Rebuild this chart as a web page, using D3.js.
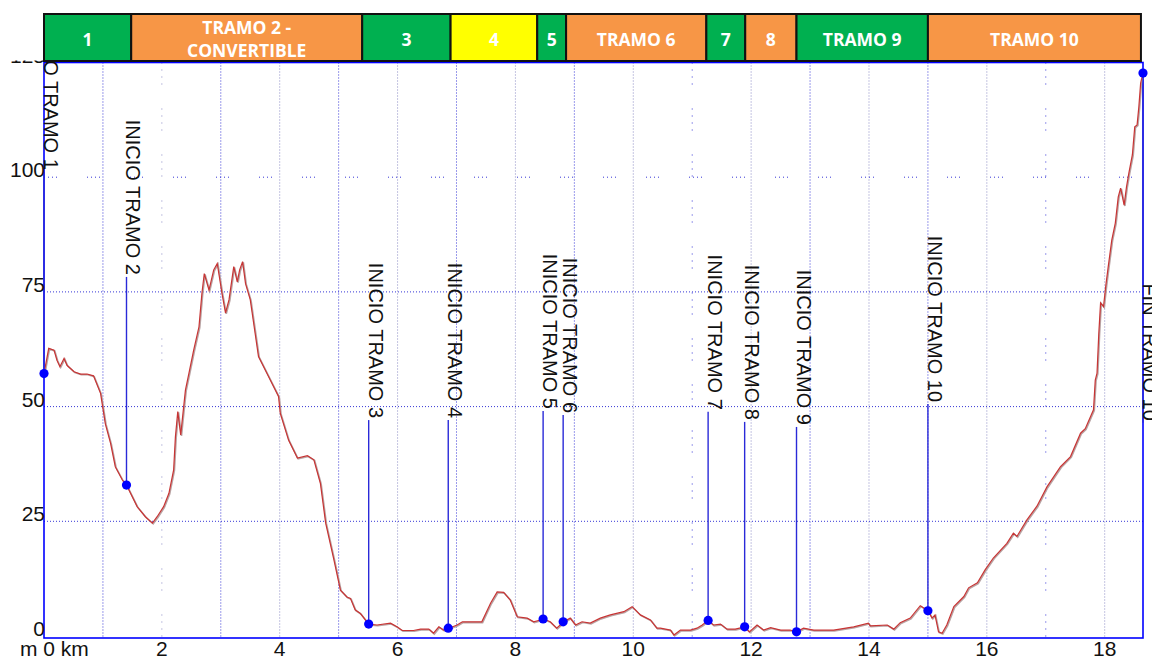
<!DOCTYPE html>
<html><head><meta charset="utf-8">
<script src="https://cdn.jsdelivr.net/npm/d3@7"></script>
<style>html,body{margin:0;padding:0;background:#fff;overflow:hidden} svg{display:block}</style>
</head><body>
<svg id="chart" width="1152" height="659"></svg>
<script>
// ---------- DATA ----------
const profileKm = [0,0.08,0.17,0.22,0.27,0.34,0.39,0.51,0.62,0.73,0.84,0.96,1.04,1.13,1.21,1.33,1.40,1.58,1.72,1.84,1.92,2.03,2.12,2.20,2.23,2.27,2.32,2.34,2.40,2.46,2.54,2.63,2.68,2.72,2.80,2.88,2.94,3.02,3.08,3.14,3.22,3.28,3.32,3.37,3.42,3.50,3.64,3.84,3.98,4.01,4.15,4.30,4.47,4.58,4.69,4.78,4.92,5.03,5.14,5.20,5.28,5.37,5.51,5.65,5.88,5.99,6.08,6.27,6.39,6.53,6.61,6.70,6.78,6.87,7.01,7.10,7.24,7.43,7.58,7.69,7.80,7.91,8.03,8.20,8.31,8.48,8.59,8.70,8.82,8.93,9.02,9.13,9.27,9.44,9.61,9.84,9.98,10.12,10.29,10.40,10.46,10.63,10.69,10.80,10.97,11.08,11.17,11.27,11.36,11.48,11.59,11.73,11.89,11.97,12.10,12.21,12.33,12.50,12.66,12.77,12.89,13.06,13.40,13.74,13.99,14.02,14.31,14.42,14.53,14.70,14.87,14.93,15.00,15.07,15.12,15.18,15.24,15.32,15.44,15.61,15.69,15.84,15.97,16.11,16.34,16.45,16.51,16.68,16.85,17.02,17.25,17.42,17.59,17.67,17.81,17.84,17.87,17.90,17.93,17.98,18.02,18.06,18.12,18.18,18.23,18.27,18.33,18.37,18.41,18.47,18.51,18.55,18.58,18.61,18.65];
const profileElev = [57.2,62.7,62.3,60.1,58.7,60.5,59.0,57.6,57.1,57.1,56.7,52.9,46.3,42.0,36.9,34.0,32.9,28.2,26.0,24.6,26.0,28.2,31.1,36.2,43.4,48.9,43.8,46.3,53.6,57.3,62.3,67.4,74.7,79.0,75.4,79.8,81.2,74.7,70.4,73.3,80.5,77.2,79.8,81.6,76.8,73.3,60.9,55.8,52.2,48.5,42.7,38.8,39.3,38.4,33.3,24.6,16.6,10.0,8.5,8.2,5.7,4.9,2.6,2.4,2.8,2.0,1.2,1.2,1.5,1.5,0.6,2.0,1.3,1.7,2.4,3.1,3.1,3.1,7.2,9.6,9.5,7.9,4.2,3.9,3.1,3.7,3.1,1.7,3.1,3.9,2.4,3.1,2.8,3.9,4.6,5.3,6.4,4.6,3.5,1.7,1.7,1.3,0.2,1.3,1.3,1.7,2.4,3.4,2.4,2.6,1.5,1.5,2.0,0.9,2.4,1.3,1.8,1.3,1.3,0.9,1.7,1.3,1.3,2.0,2.8,2.2,2.4,1.5,2.9,3.9,6.6,6.1,5.5,3.9,4.6,0.9,0.6,2.4,6.4,8.6,10.5,11.6,14.4,17.0,20.2,22.4,21.7,25.3,28.3,32.5,36.9,39.1,44.2,45.2,49.3,55.8,57.3,66.0,72.6,71.8,76.5,80.5,86.3,90.0,95.7,97.6,93.9,97.9,100.9,104.9,111.0,111.4,115.4,120.5,122.7];

const markerNames = ["INICIO TRAMO 1","INICIO TRAMO 2","INICIO TRAMO 3","INICIO TRAMO 4","INICIO TRAMO 5","INICIO TRAMO 6","INICIO TRAMO 7","INICIO TRAMO 8","INICIO TRAMO 9","INICIO TRAMO 10","FIN TRAMO 10"];
const markerKm = [0,1.40,5.51,6.86,8.47,8.81,11.27,11.89,12.77,15.00,18.65];
const markerElev = [57.2,32.9,2.6,1.7,3.7,3.1,3.4,2.0,0.9,5.5,122.7];
const markerLabelEnd = [101.6,78.7,47.5,47.5,49.5,48.6,49.3,47.1,46.0,51.0,46.9];

const tramoNames = [["1"],["TRAMO 2 -","CONVERTIBLE"],["3"],["4"],["5"],["TRAMO 6"],["7"],["8"],["TRAMO 9"],["TRAMO 10"]];
const tramoStart = [0,1.48,5.40,6.90,8.37,8.86,11.24,11.90,12.77,15.00];
const tramoEnd = [1.48,5.40,6.90,8.37,8.86,11.24,11.90,12.77,15.00,18.615];
const tramoType = ["verde","naranja","verde","amarillo","verde","naranja","verde","naranja","verde","naranja"];

const yTicks = [0,25,50,75,100,125];
const xTicks = [2,4,6,8,10,12,14,16,18];
const xGrid = [1,2,3,4,5,6,7,8,9,10,11,12,13,14,15,16,17,18];
const xGridSparse = [2,11,17];
const yGrid = [25,50,75,100];
const yGridSparse = [100];

// ---------- CHART ----------
const svg = d3.select("#chart");
const L = 44, R = 1143, B = 636, T = 62.5;
const x = d3.scaleLinear().domain([0, 18.65]).range([L, R]);
const y = d3.scaleLinear().domain([0, 125]).range([B, T]);
const fillColor = d3.scaleOrdinal().domain(["verde","naranja","amarillo"]).range(["#00B050","#F79646","#FFFF00"]);

const gridColor = "#3636d6";
const sparseDash = "1,6,1,6,1,6,1,24";

// vertical grid
svg.append("g").selectAll("line").data(xGrid).join("line")
  .attr("x1", d => x(d)).attr("x2", d => x(d))
  .attr("y1", T).attr("y2", B + 2)
  .attr("stroke", (d,i) => i % 2 ? "#8a8ac4" : gridColor)
  .attr("stroke-width", 1)
  .attr("stroke-dasharray", d => xGridSparse.includes(d) ? sparseDash : "1,2");

// horizontal grid
svg.append("g").selectAll("line").data(yGrid).join("line")
  .attr("x1", L).attr("x2", R)
  .attr("y1", d => y(d)).attr("y2", d => y(d))
  .attr("stroke", gridColor)
  .attr("stroke-width", 1)
  .attr("stroke-dasharray", d => yGridSparse.includes(d) ? "1,3,1,3,1,3,1,30" : "1,2");

// frame
svg.append("rect").attr("x", L).attr("y", T).attr("width", R - L).attr("height", B + 2 - T)
  .attr("fill", "none").attr("stroke", "#0000ff").attr("stroke-width", 1.6);

// profile
const pts = profileKm.map((k, i) => [k, profileElev[i]]);
const line = d3.line().x(d => x(d[0])).y(d => y(d[1]));
svg.append("path").datum(pts).attr("d", line)
  .attr("fill", "none").attr("stroke", "#b9a4a4").attr("stroke-width", 1.6)
  .attr("transform", "translate(0.8,0.8)");
svg.append("path").datum(pts).attr("d", line)
  .attr("fill", "none").attr("stroke", "#c83434").attr("stroke-width", 1.2);

// markers
const markers = markerNames.map((n, i) => ({n, k: markerKm[i], e: markerElev[i], le: markerLabelEnd[i]}));
const mg = svg.append("g");
mg.selectAll("line").data(markers).join("line")
  .attr("x1", d => x(d.k)).attr("x2", d => x(d.k))
  .attr("y1", d => y(d.le) + 2).attr("y2", d => y(d.e))
  .attr("stroke", "#2a2ad8").attr("stroke-width", 1.4);
mg.selectAll("circle").data(markers).join("circle")
  .attr("cx", d => x(d.k)).attr("cy", d => y(d.e)).attr("r", 4.6)
  .attr("fill", "#0000ff");
mg.selectAll("text").data(markers).join("text")
  .attr("transform", d => `translate(${x(d.k)},${y(d.le)}) rotate(90)`)
  .attr("text-anchor", "end")
  .attr("font-family", "'Liberation Sans', Arial, sans-serif")
  .attr("font-size", 20)
  .attr("fill", "#111")
  .text(d => d.n);

// y tick labels
svg.append("g").selectAll("text").data(yTicks).join("text")
  .attr("x", L + 1).attr("y", d => y(d))
  .attr("text-anchor", "end")
  .attr("font-family", "'Liberation Sans', Arial, sans-serif")
  .attr("font-size", 21).attr("fill", "#111")
  .text(d => d);

// x tick labels
svg.append("g").selectAll("text").data(xTicks).join("text")
  .attr("x", d => x(d)).attr("y", 656)
  .attr("text-anchor", "middle")
  .attr("font-family", "'Liberation Sans', Arial, sans-serif")
  .attr("font-size", 21).attr("fill", "#111")
  .text(d => d);
svg.append("text").attr("x", 20).attr("y", 656)
  .attr("font-family", "'Liberation Sans', Arial, sans-serif")
  .attr("font-size", 21).attr("fill", "#111")
  .text("m 0 km");

// white cover at top-left (cropped area of original)
svg.append("rect").attr("x", 0).attr("y", 0).attr("width", L - 1).attr("height", 60.5).attr("fill", "#fff");

// tramo bar
const tramos = tramoNames.map((n, i) => ({n, s: tramoStart[i], e: tramoEnd[i], t: tramoType[i]}));
const bg = svg.append("g");
bg.selectAll("rect").data(tramos).join("rect")
  .attr("x", d => x(d.s)).attr("y", 14)
  .attr("width", d => x(d.e) - x(d.s)).attr("height", 47)
  .attr("fill", d => fillColor(d.t))
  .attr("stroke", "#111").attr("stroke-width", 2);
bg.selectAll("text").data(tramos).join("text")
  .attr("x", d => (x(d.s) + x(d.e)) / 2)
  .attr("text-anchor", "middle")
  .attr("font-family", "'Open Sans', sans-serif")
  .attr("font-weight", 700)
  .attr("font-size", 17.5)
  .attr("fill", "#fff")
  .each(function(d) {
    const t = d3.select(this);
    if (d.n.length === 1) {
      t.attr("y", 46).text(d.n[0]);
    } else {
      t.selectAll("tspan").data(d.n).join("tspan")
        .attr("x", (x(d.s) + x(d.e)) / 2)
        .attr("y", (s, j) => j === 0 ? 34 : 57)
        .text(s => s);
    }
  });
</script>
</body></html>
